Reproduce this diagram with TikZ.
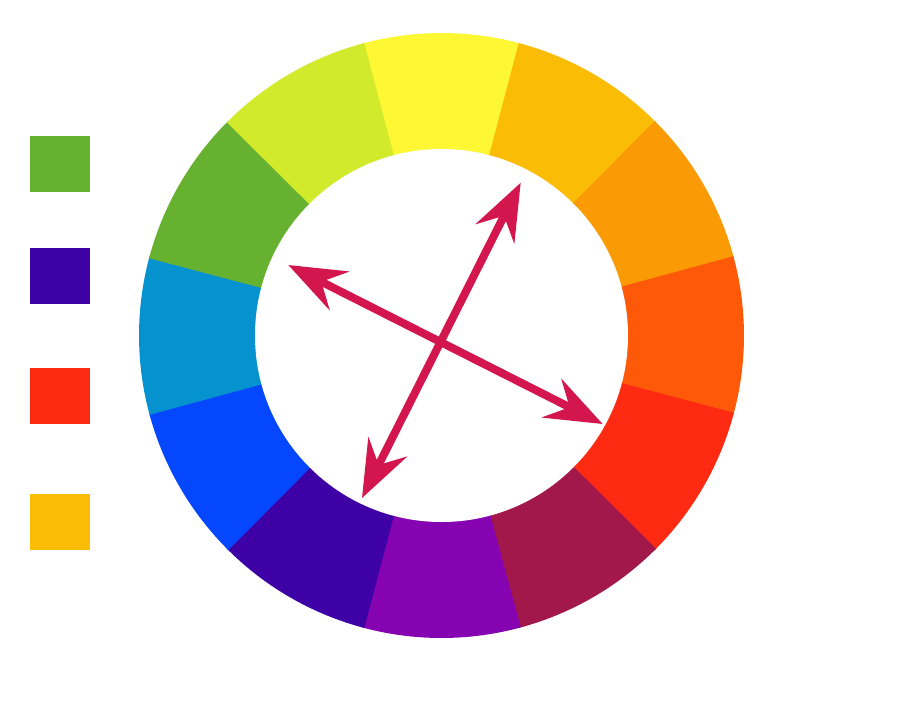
\documentclass[tikz,border=0pt]{standalone}
\usetikzlibrary{arrows.meta}
\definecolor{cwYellow}{HTML}{FEF734}
\definecolor{cwYellowOrange}{HTML}{FBBC05}
\definecolor{cwOrange}{HTML}{FA9B05}
\definecolor{cwRedOrange}{HTML}{FD5909}
\definecolor{cwRed}{HTML}{FE2B12}
\definecolor{cwRedViolet}{HTML}{A3184A}
\definecolor{cwViolet}{HTML}{8503B0}
\definecolor{cwBlueViolet}{HTML}{3E01A5}
\definecolor{cwBlue}{HTML}{0447FE}
\definecolor{cwBlueGreen}{HTML}{0592CE}
\definecolor{cwGreen}{HTML}{67B131}
\definecolor{cwYellowGreen}{HTML}{D1EA2C}
\definecolor{cwCrimson}{HTML}{D3174E}
\begin{document}
\begin{tikzpicture}[
    swatch/.style={rectangle, minimum width=0.6cm, minimum height=0.56cm, inner sep=0pt},
    tetrad/.style={draw=cwCrimson, line width=0.8mm,
        arrows={Stealth[length=5.7mm,width=4.3mm,inset=2mm]-Stealth[length=5.7mm,width=4.3mm,inset=2mm]}}
    ]
            \useasboundingbox (0,0) rectangle (9,7);
            \coordinate (centre) at (4.415,3.645);

            % wheel segments
            \foreach \ang/\col in {90/cwYellow, 60/cwYellowOrange, 30/cwOrange, 0/cwRedOrange,
                -30/cwRed, -60/cwRedViolet, -90/cwViolet, -120/cwBlueViolet,
                -150/cwBlue, 180/cwBlueGreen, 150/cwGreen, 120/cwYellowGreen}
            {
                \fill[\col] (centre) -- ++(\ang-15.2:3.025) arc[start angle=\ang-15.2, end angle=\ang+15.2, radius=3.025] -- cycle;
            }
            \fill[white] (centre) circle (1.865);

            % swatches
            \node[swatch, fill=cwGreen] (swGreen) at (0.6,5.36) {};
            \node[swatch, fill=cwBlueViolet] (swBlueViolet) at (0.6,4.24) {};
            \node[swatch, fill=cwRed] (swRed) at (0.6,3.04) {};
            \node[swatch, fill=cwYellowOrange] (swYellowOrange) at (0.6,1.78) {};

            % arrows
            \coordinate (tipSW) at (3.62,2.02);
            \coordinate (tipNE) at (5.207,5.173);
            \coordinate (tipNW) at (2.883,4.35);
            \coordinate (tipSE) at (6.027,2.76);

            \draw[tetrad] (tipSW) -- (tipNE);
            \draw[tetrad] (tipNW) -- (tipSE);
        \end{tikzpicture}
\end{document}
